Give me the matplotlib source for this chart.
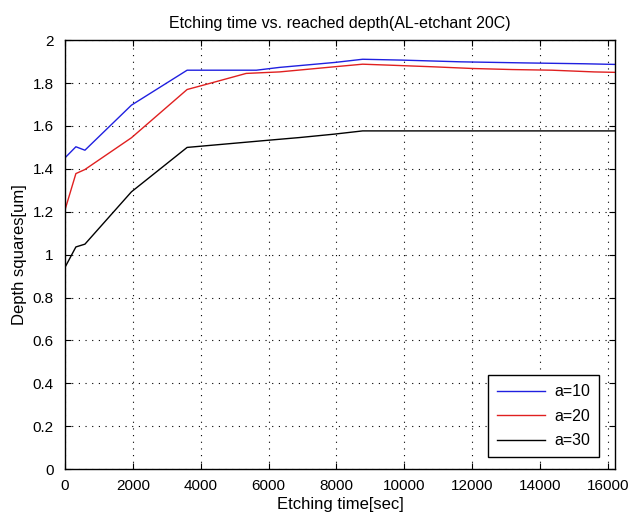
import matplotlib
matplotlib.use("Agg")
from matplotlib import pyplot as plt

# values
t_a10 = [0, 324, 590, 1960, 3600, 5640, 6320, 7940, 8770, 9940, 11670, 13530, 15290, 16200]
d_a10 = [1.451, 1.503, 1.487, 1.697, 1.86, 1.86, 1.873, 1.896, 1.911, 1.907, 1.899, 1.894, 1.89, 1.887]

t_a20 = [0, 324, 590, 1960, 3600, 4070, 5340, 6320, 7940, 8770, 9650, 10820, 12000, 13180, 14350, 15590, 16200]
d_a20 = [1.207, 1.378, 1.397, 1.545, 1.77, 1.79, 1.845, 1.852, 1.876, 1.888, 1.883, 1.876, 1.868, 1.863, 1.86, 1.852, 1.85]

t_a30 = [0, 324, 590, 1960, 3600, 6030, 6910, 7940, 8770, 16200]
d_a30 = [0.94, 1.036, 1.049, 1.293, 1.50, 1.534, 1.546, 1.562, 1.577, 1.577]

x_ticks = [0, 2000, 4000, 6000, 8000, 10000, 12000, 14000, 16000]
y_ticks = [0, 0.2, 0.4, 0.6, 0.8, 1, 1.2, 1.4, 1.6, 1.8, 2]

plt.rcParams["font.family"] = ["Liberation Sans", "DejaVu Sans"]
plt.rcParams["font.size"] = 11

fig = plt.figure(figsize=(6.3, 5.15), dpi=100)
ax = fig.add_axes([0.103, 0.089, 0.873, 0.833])

ax.plot(t_a10, d_a10, color="#2020e0", lw=1, label="a=10")
ax.plot(t_a20, d_a20, color="#e02020", lw=1, label="a=20")
ax.plot(t_a30, d_a30, color="black", lw=1, label="a=30")

ax.set_xlim(0, 16200)
ax.set_ylim(0, 2)
ax.set_xticks(x_ticks)
ax.set_yticks(y_ticks)
ax.set_yticklabels([f"{v:g}" for v in y_ticks])
ax.tick_params(direction="in", top=True, right=True, length=4)
ax.tick_params(axis="x", pad=7)
ax.tick_params(axis="y", pad=8)
ax.grid(True, linestyle=(0, (1, 5)), color="black", lw=0.8)
for s in ax.spines.values():
    s.set_linewidth(1)

ax.set_title("Etching time vs. reached depth(AL-etchant 20C)", fontsize=11.5, pad=9)
ax.set_xlabel("Etching time[sec]", fontsize=12, labelpad=3)
ax.set_ylabel("Depth squares[um]", fontsize=12, labelpad=4)

leg = ax.legend(loc="lower right", bbox_to_anchor=(0.971, 0.028), borderaxespad=0,
                fancybox=False, edgecolor="black", framealpha=1,
                handlelength=3.0, handletextpad=0.6, labelspacing=0.6,
                borderpad=0.55, fontsize=11.5)
leg.get_frame().set_linewidth(1)

fig.savefig("out.png", dpi=100)
